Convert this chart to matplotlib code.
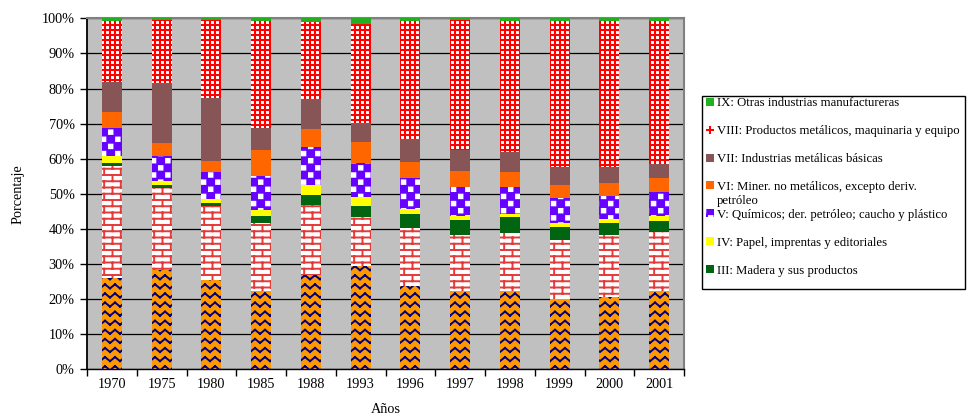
import warnings
import numpy as np
import matplotlib
matplotlib.use('Agg')
import matplotlib.pyplot as plt
from matplotlib import hatch as mhatch
from matplotlib.patches import Rectangle
from matplotlib.path import Path

warnings.filterwarnings('ignore')

# datos: participación (%) de cada división en el valor agregado manufacturero
years = ['1970', '1975', '1980', '1985', '1988', '1993', '1996', '1997', '1998', '1999', '2000', '2001']
div_i = [26.0, 28.2, 25.4, 22.2, 26.8, 29.3, 23.7, 22.2, 22.2, 19.9, 20.6, 22.2]
div_ii = [32.0, 23.5, 21.0, 19.5, 19.9, 14.1, 16.5, 16.2, 16.6, 17.0, 17.6, 16.9]
div_iii = [0.9, 0.9, 1.1, 1.9, 3.0, 3.2, 4.1, 4.0, 4.5, 3.5, 3.6, 3.2]
div_iv = [1.9, 1.0, 1.1, 1.7, 2.9, 2.5, 1.3, 1.2, 1.0, 1.3, 1.1, 1.3]
div_v = [8.0, 7.2, 7.7, 9.9, 10.6, 9.6, 8.9, 8.3, 7.6, 7.1, 6.6, 7.0]
div_vi = [4.4, 3.8, 3.1, 7.4, 5.3, 6.0, 4.5, 4.5, 4.4, 3.8, 3.5, 4.0]
div_vii = [8.7, 16.9, 17.8, 6.1, 8.4, 5.6, 6.5, 6.2, 5.5, 5.0, 4.5, 3.9]
div_viii = [17.3, 17.9, 22.4, 30.5, 22.0, 28.2, 33.7, 36.8, 37.4, 41.6, 41.7, 40.7]
div_ix = [0.8, 0.6, 0.4, 0.8, 1.1, 1.5, 0.8, 0.6, 0.8, 0.8, 0.8, 0.8]

names = [None, None,
         'III: Madera y sus productos',
         'IV: Papel, imprentas y editoriales',
         'V: Químicos; der. petróleo; caucho y plástico',
         'VI: Miner. no metálicos, excepto deriv.',
         'VII: Industrias metálicas básicas',
         'VIII: Productos metálicos, maquinaria y equipo',
         'IX: Otras industrias manufactureras']
yticks = [0, 10, 20, 30, 40, 50, 60, 70, 80, 90, 100]
ytick_labels = ['0%', '10%', '20%', '30%', '40%', '50%', '60%', '70%', '80%', '90%', '100%']


# tramas tipo Excel (zigzag, ladrillo, damero, puntos)
class Zigzag(mhatch.HatchPatternBase):
    def __init__(self, hatch, density):
        self.on = 'Z' in hatch
        self.rows, self.per = 11, 10
        self.num_vertices = self.rows * self.per * 4 if self.on else 0

    def set_vertices_and_codes(self, vertices, codes):
        a = 0.02
        i = 0
        for r in range(self.rows):
            yc = (r + 0.5) / self.rows
            for k in range(self.per):
                x0, x1, x2 = k / self.per, (k + 0.5) / self.per, (k + 1) / self.per
                for (xa, ya, xb, yb) in [(x0, yc - a, x1, yc + a), (x1, yc + a, x2, yc - a)]:
                    vertices[i] = (xa, ya)
                    vertices[i + 1] = (xb, yb)
                    codes[i], codes[i + 1] = Path.MOVETO, Path.LINETO
                    i += 2


class Brick(mhatch.HatchPatternBase):
    def __init__(self, hatch, density):
        self.on = 'B' in hatch
        self.rows, self.cols = 16, 6
        self.num_vertices = ((self.rows + 1) * 2 + self.rows * self.cols * 2) if self.on else 0

    def set_vertices_and_codes(self, vertices, codes):
        i = 0
        for r in range(self.rows + 1):
            y = r / self.rows
            vertices[i], vertices[i + 1] = (0, y), (1, y)
            codes[i], codes[i + 1] = Path.MOVETO, Path.LINETO
            i += 2
        for r in range(self.rows):
            for k in range(self.cols):
                x = (k + 0.25 + 0.5 * (r % 2)) / self.cols
                vertices[i], vertices[i + 1] = (x, r / self.rows), (x, (r + 1) / self.rows)
                codes[i], codes[i + 1] = Path.MOVETO, Path.LINETO
                i += 2


class Squares(mhatch.HatchPatternBase):
    def __init__(self, hatch, density):
        if 'C' in hatch:
            self.n, self.inset, self.checker = 14, 0.018, True
        elif 'D' in hatch:
            self.n, self.inset, self.checker = 20, 0.02, False
        else:
            self.n = 0
        self.cells = []
        for i in range(self.n):
            for j in range(self.n):
                if not self.checker or (i + j) % 2 == 0:
                    self.cells.append((i, j))
        self.num_vertices = len(self.cells) * 5

    def set_vertices_and_codes(self, vertices, codes):
        c = 1 / self.n
        for m, (i, j) in enumerate(self.cells):
            x0, y0 = i * c + self.inset, j * c + self.inset
            x1, y1 = (i + 1) * c - self.inset, (j + 1) * c - self.inset
            vertices[m * 5:m * 5 + 5] = [(x0, y0), (x1, y0), (x1, y1), (x0, y1), (x0, y0)]
            codes[m * 5:m * 5 + 5] = [Path.MOVETO, Path.LINETO, Path.LINETO, Path.LINETO, Path.CLOSEPOLY]


mhatch._hatch_types.extend([Zigzag, Brick, Squares])

plt.rcParams['font.family'] = ['Liberation Serif', 'DejaVu Serif']
plt.rcParams['font.size'] = 10.3
plt.rcParams['hatch.linewidth'] = 1.4

# (relleno, color de trama, trama)
styles = [('#FF9900', '#000080', 'Z'),
          ('#FFFFFF', '#E33A3A', 'B'),
          ('#006411', None, None),
          ('#FFFF00', None, None),
          ('#6600FF', '#FFFFFF', 'C'),
          ('#FF6600', None, None),
          ('#875555', None, None),
          ('#FF0000', '#FFFFFF', 'D'),
          ('#22B022', None, None)]

series = [div_i, div_ii, div_iii, div_iv, div_v, div_vi, div_vii, div_viii, div_ix]

fig = plt.figure(figsize=(9.67, 4.18), dpi=100)
ax = fig.add_axes([87 / 967, 1 - 369.3 / 418, 597 / 967, 351 / 418])
ax.set_facecolor('#C0C0C0')

x = np.arange(len(years))
bottom = np.zeros(len(years))
handles = []
for vals, (fc, hc, ht), name in zip(series, styles, names):
    vals = np.array(vals)
    bars = ax.bar(x, vals, 0.4, bottom=bottom, color=fc,
                  edgecolor=hc if hc else fc, hatch=ht, linewidth=0, zorder=3)
    bottom += vals
    handles.append((bars, name))

ax.set_xlim(-0.5, len(years) - 0.5)
ax.set_ylim(0, 100)
ax.set_yticks(yticks)
ax.set_yticklabels(ytick_labels)
ax.set_xticks(x)
ax.set_xticklabels(years)
ax.set_xticks(np.arange(len(years) + 1) - 0.5, minor=True)
ax.tick_params(axis='x', which='major', length=0, pad=6)
ax.tick_params(axis='x', which='minor', length=5, width=1, direction='out')
ax.tick_params(axis='y', length=5, width=1, direction='out', pad=4)
ax.yaxis.grid(True, color='black', linewidth=0.9)
ax.set_axisbelow(True)
for s in ['top', 'right']:
    ax.spines[s].set_color('#808080')
    ax.spines[s].set_linewidth(1.5)
ax.spines['left'].set_linewidth(1.3)
ax.spines['bottom'].set_linewidth(1.0)

ax.set_ylabel('Porcentaje')
ax.yaxis.set_label_coords(-0.105, 0.5)
ax.set_xlabel('Años')
ax.xaxis.set_label_coords(0.5, -0.095)

hs = [h for h, n in handles if n][::-1]
ls = [n for h, n in handles if n][::-1]
leg = ax.legend(hs, ls, loc='upper left', bbox_to_anchor=(705 / 967, 1 - 96 / 418),
                bbox_transform=fig.transFigure, frameon=False, prop={'size': 9.15},
                handlelength=0.6, handleheight=0.6, handletextpad=0.25,
                labelspacing=1.25, borderpad=0.1, borderaxespad=0)
vi_text = leg.get_texts()[3]
ax.annotate('petróleo', xy=(0, 0), xycoords=vi_text, xytext=(0, -1.5),
            textcoords='offset points', ha='left', va='top', fontsize=9.15,
            annotation_clip=False, zorder=10)
fig.add_artist(Rectangle((702 / 967, 1 - 289 / 418), 263 / 967, 193 / 418,
                         transform=fig.transFigure, fill=False, ec='black', lw=1))

fig.savefig('out.png', dpi=100)
